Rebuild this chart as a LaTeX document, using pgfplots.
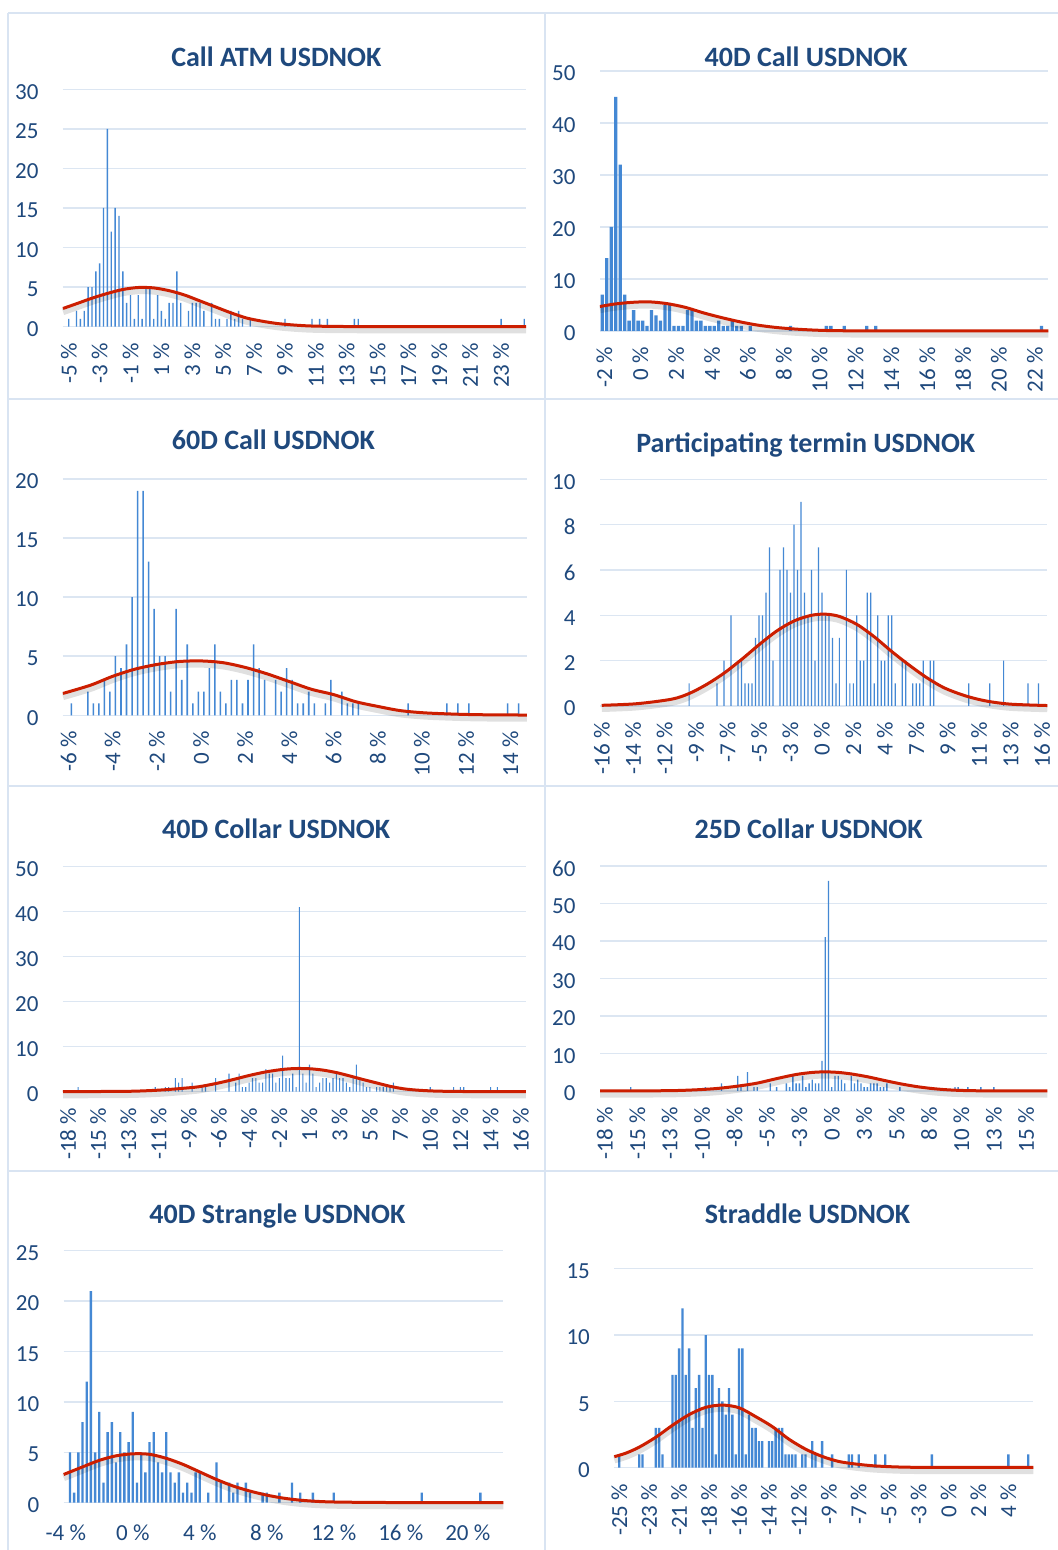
\documentclass[border=0pt]{standalone}
\usepackage{fontspec}
\setmainfont{Carlito}
\usepackage{pgfplots}
\usepackage{pgfplotstable}
\pgfplotsset{compat=1.18}

\definecolor{barblue}{RGB}{68,136,212}
\definecolor{curvered}{RGB}{204,30,0}
\definecolor{gridblue}{RGB}{220,230,242}
\definecolor{frameblue}{RGB}{217,228,242}
\definecolor{textblue}{RGB}{31,73,125}

\newcommand{\ticksize}{\fontsize{11.5}{13}\selectfont}
\newcommand{\titlesize}{\fontsize{14}{16.5}\selectfont}

\pgfplotsset{
  panel/.style={
    scale only axis, anchor=south west, clip=false,
    ymin=0, axis line style={draw=none}, major tick length=0pt,
    ymajorgrids, grid style={line width=0.75pt, gridblue},
    tick label style={font=\ticksize, text=textblue},
    yticklabel style={xshift=-8.7pt, yshift=-1.2pt,
      /pgf/number format/assume math mode=true},
  },
  % labels read upwards; after rotate=90 the node's x axis points up the page
  rotlabels/.style={xticklabel style={rotate=90, anchor=east, xshift=-4.5pt}},
  bars/.style={ybar, bar shift=0pt, fill=barblue, draw=none},
  fitcurve/.style={smooth, no markers, line width=1.5pt, curvered},
  fitshadow/.style={smooth, no markers, line width=3.5pt, black, opacity=0.12,
    transform canvas={yshift=-1.6pt}},
}

% ---------- Call ATM ----------
\pgfplotstableread{
x y
-5 1
-4.5 2
-4.25 1
-4 2
-3.75 5
-3.5 5
-3.25 7
-3 8
-2.75 15
-2.5 25
-2.25 12
-2 15
-1.75 14
-1.5 7
-1.25 3
-1 4
-0.75 1
-0.5 4
-0.25 1
0 5
0.25 5
0.5 1
0.75 4
1 2
1.25 1
1.5 3
1.75 3
2 7
2.25 3
2.75 2
3 3
3.25 3
3.5 3
3.75 2
4.25 3
4.5 1
4.75 1
5.25 1
5.5 2
5.75 1
6 2
6.25 1
6.75 1
9 1
10.75 1
11.25 1
11.75 1
13.5 1
13.75 1
23 1
24.5 1
}\atmbars
\pgfplotstableread{
x y
-5.375 2.3
-4.5 2.9
-3.5 3.6
-2.5 4.2
-1.5 4.7
-0.5 4.95
0.5 4.9
1.5 4.55
2.5 4.0
3.5 3.25
4.5 2.5
5.5 1.75
6.5 1.1
7.5 0.7
8.5 0.4
9.5 0.22
10.5 0.1
11.5 0.05
13 0.02
16 0.01
20 0.01
24.625 0.01
}\atmfit

% ---------- 40D Call ----------
\pgfplotstableread{
x y
-2.125 7
-1.875 14
-1.625 20
-1.375 45
-1.125 32
-0.875 7
-0.625 2
-0.375 4
-0.125 2
0.125 2
0.375 1
0.625 4
0.875 3
1.125 2
1.375 5
1.625 5
1.875 1
2.125 1
2.375 1
2.625 4
2.875 4
3.125 2
3.375 2
3.625 1
3.875 1
4.125 1
4.375 2
4.625 1
4.875 1
5.125 2
5.375 1
5.625 1
6.125 1
8.375 1
10.375 1
10.625 1
11.375 1
12.625 1
13.125 1
22.375 1
}\calfortybars
\pgfplotstableread{
x y
-2.25 4.7
-1.5 5.15
-0.5 5.5
0.5 5.6
1.5 5.25
2.5 4.55
3.5 3.5
4.5 2.6
5.5 1.8
6.5 1.15
7.5 0.7
8.5 0.4
9.5 0.2
10.5 0.08
12 0.03
16 0.01
22.75 0.01
}\calfortyfit

% ---------- 60D Call ----------
\pgfplotstableread{
x y
-5.875 1
-5.125 2
-4.875 1
-4.625 1
-4.375 3
-4.125 2
-3.875 5
-3.625 4
-3.375 6
-3.125 10
-2.875 19
-2.625 19
-2.375 13
-2.125 9
-1.875 5
-1.625 5
-1.375 2
-1.125 9
-0.875 3
-0.625 6
-0.375 1
-0.125 2
0.125 2
0.375 4
0.625 6
0.875 2
1.125 1
1.375 3
1.625 3
1.875 1
2.125 3
2.375 6
2.625 4
2.875 3
3.375 3
3.625 2
3.875 4
4.125 3
4.375 1
4.625 1
4.875 2
5.125 1
5.625 1
5.875 3
6.375 2
6.625 1
6.875 1
7.125 1
9.375 1
11.125 1
11.625 1
12.125 1
13.875 1
14.375 1
}\calsixtybars
\pgfplotstableread{
x y
-6.25 1.85
-5 2.55
-4 3.3
-3 3.9
-2 4.3
-1 4.55
0 4.6
1 4.45
2 4.05
3 3.5
4 2.85
5 2.2
6 1.75
7 1.15
8 0.75
9 0.4
10 0.22
11 0.13
12 0.07
13 0.04
14.75 0.02
}\calsixtyfit

% ---------- Participating termin (bin index) ----------
\pgfplotstableread{
x y
25 1
33 1
35 2
37 4
39 2
40 2
41 1
42 1
43 1
44 3
45 4
46 4
47 5
48 7
49 2
51 6
52 7
53 6
54 5
55 8
56 6
57 9
58 5
59 4
60 6
61 2
62 7
63 5
64 4
65 4
66 3
67 1
68 3
70 6
71 1
72 1
73 4
74 2
75 2
76 5
77 5
78 1
79 4
80 2
81 2
82 4
83 4
84 1
86 2
87 2
89 1
90 1
91 1
92 2
94 2
95 2
105 1
111 1
115 2
122 1
125 1
}\partbars
\pgfplotstableread{
x y
0 0.03
10 0.1
20 0.3
25 0.55
30 0.95
35 1.45
40 2.05
45 2.7
50 3.3
55 3.75
60 4.0
64 4.05
68 3.95
73 3.6
78 3.05
83 2.4
88 1.8
93 1.25
98 0.8
104 0.45
110 0.22
117 0.08
127.5 0.02
}\partfit

% ---------- 40D Collar (bin index) ----------
\pgfplotstableread{
x y
4 1
27 1
30 1
31 1
33 3
34 2
35 3
38 2
41 1
42 1
45 3
49 4
51 2
52 4
53 1
54 1
55 2
56 3
57 3
58 2
59 2
60 5
61 4
62 4
63 2
64 3
65 8
66 3
67 3
68 4
69 1
70 41
71 4
72 2
73 6
74 4
75 1
76 2
77 3
78 3
79 2
80 3
81 4
82 3
83 3
84 2
85 1
86 3
87 6
88 3
89 2
90 1
91 1
93 1
94 1
95 1
96 1
97 1
98 2
109 1
116 1
118 1
119 1
127 1
129 1
}\colfortybars
\pgfplotstableread{
x y
-0.5 0.02
10 0.04
20 0.1
27 0.3
32 0.55
36 0.8
40 1.1
45 1.8
50 2.65
55 3.6
60 4.4
65 4.95
69 5.15
73 5.1
77 4.8
81 4.25
85 3.5
89 2.7
93 1.95
97 1.2
101 0.65
105 0.35
110 0.15
116 0.06
125 0.02
137.5 0.01
}\colfortyfit

% ---------- 25D Collar (bin index) ----------
\pgfplotstableread{
x y
9 1
32 1
37 2
42 4
43 1
45 5
47 1
48 1
52 2
54 1
57 2
58 1
59 4
60 2
61 2
62 4
63 1
64 2
65 3
66 2
67 2
68 8
69 41
70 56
71 1
72 4
73 4
74 3
75 2
77 4
78 2
79 3
80 2
81 1
82 1
83 2
84 2
85 2
86 1
87 1
88 2
92 1
109 1
110 1
113 1
117 1
121 1
}\coltwentybars
\pgfplotstableread{
x y
-0.5 0.02
10 0.03
22 0.1
30 0.35
36 0.7
42 1.3
48 2.1
54 3.3
60 4.4
65 4.95
69 5.1
73 4.95
77 4.55
82 3.8
87 2.85
92 1.95
97 1.2
102 0.65
107 0.3
112 0.12
118 0.05
137.5 0.02
}\coltwentyfit

% ---------- 40D Strangle ----------
\pgfplotstableread{
x y
-3.75 5
-3.5 1
-3.25 5
-3 8
-2.75 12
-2.5 21
-2.25 5
-2 9
-1.75 2
-1.5 7
-1.25 8
-1 4
-0.75 7
-0.5 5
-0.25 6
0 9
0.25 2
0.5 5
0.75 3
1 6
1.25 7
1.5 4
1.75 3
2 7
2.25 3
2.5 2
2.75 3
3 1
3.25 2
3.5 1
3.75 3
4 3
4.5 1
5 4
5.25 2
5.75 2
6 1
6.25 2
6.75 2
7 1
7.75 1
8 1
8.75 1
9.5 2
10 1
10.75 1
12 1
17.25 1
20.75 1
}\strbars
\pgfplotstableread{
x y
-4.125 2.8
-3 3.55
-2 4.2
-1 4.65
0 4.85
1 4.8
2 4.4
3 3.8
4 3.05
5 2.3
6 1.65
7 1.15
8 0.75
9 0.45
10 0.25
11 0.13
12 0.07
14 0.03
17 0.01
22.125 0.01
}\strfit

% ---------- Straddle (bin index) ----------
\pgfplotstableread{
x y
1 1
7 1
8 1
12 3
13 3
14 1
17 7
18 7
19 9
20 12
21 7
22 9
23 3
24 6
25 7
26 3
27 10
28 7
29 7
30 1
31 6
32 5
33 4
34 6
35 4
36 1
37 9
38 9
39 1
40 4
41 3
42 3
43 2
44 2
46 2
47 2
48 3
49 3
50 3
51 1
52 1
53 1
54 1
56 1
57 1
59 2
60 1
62 2
65 1
70 1
71 1
73 1
78 1
81 1
95 1
118 1
124 1
}\stdbars
\pgfplotstableread{
x y
-0.5 0.83
3 1.1
7 1.55
12 2.3
17 3.2
22 4.0
27 4.55
32 4.72
37 4.52
42 3.85
47 3.1
52 2.15
57 1.4
62 0.85
67 0.47
72 0.28
77 0.15
82 0.08
87 0.04
95 0.02
110 0.02
125.5 0.02
}\stdfit

\begin{document}
\begin{tikzpicture}
\useasboundingbox (0,0) rectangle (529pt,775pt);
\fill[white] (0,0) rectangle (529pt,775pt);

% chart-area frames
\begin{scope}[frameblue, line width=0.9pt]
  \draw (4pt,0) -- (4pt,768.35pt);
  \draw (272.5pt,0) -- (272.5pt,768.35pt);
  \draw (4pt,768.35pt) -- (529pt,768.35pt);
  \draw (4pt,575.5pt) -- (529pt,575.5pt);
  \draw (4pt,382pt) -- (529pt,382pt);
  \draw (4pt,189.5pt) -- (529pt,189.5pt);
\end{scope}

% titles
\begin{scope}[font=\bfseries\titlesize, text=textblue, anchor=base]
  \node at (138.15pt,741.65pt) {Call ATM USDNOK};
  \node at (403.1pt,741.65pt) {40D Call USDNOK};
  \node at (136.7pt,550pt) {60D Call USDNOK};
  \node at (402.9pt,548.65pt) {Participating termin USDNOK};
  \node at (138.1pt,355.5pt) {40D Collar USDNOK};
  \node at (404.35pt,355.85pt) {25D Collar USDNOK};
  \node at (138.7pt,163pt) {40D Strangle USDNOK};
  \node at (403.75pt,163pt) {Straddle USDNOK};
\end{scope}

% Call ATM
\begin{axis}[panel, rotlabels, at={(31.5pt,611.65pt)}, width=231.6pt, height=118.7pt,
  xmin=-5.375, xmax=24.625, ymax=30, ytick={0,5,...,30},
  xtick={-5,-3,...,23},
  xticklabels={-5 \%,-3 \%,-1 \%,1 \%,3 \%,5 \%,7 \%,9 \%,11 \%,13 \%,15 \%,17 \%,19 \%,21 \%,23 \%}]
  \addplot[bars, bar width=0.09] table {\atmbars};
  \addplot[fitshadow] table {\atmfit};
  \addplot[fitcurve] table {\atmfit};
\end{axis}

% 40D Call
\begin{axis}[panel, rotlabels, at={(300pt,609.5pt)}, width=224.15pt, height=130pt,
  xmin=-2.25, xmax=22.75, ymax=50, ytick={0,10,...,50},
  xtick={-2,0,...,22},
  xticklabels={-2 \%,0 \%,2 \%,4 \%,6 \%,8 \%,10 \%,12 \%,14 \%,16 \%,18 \%,20 \%,22 \%}]
  \addplot[bars, bar width=0.185] table {\calfortybars};
  \addplot[fitshadow] table {\calfortyfit};
  \addplot[fitcurve] table {\calfortyfit};
\end{axis}

% 60D Call
\begin{axis}[panel, rotlabels, at={(31.5pt,417.35pt)}, width=231.95pt, height=118.15pt,
  xmin=-6.25, xmax=14.75, ymax=20, ytick={0,5,...,20},
  xtick={-6,-4,...,14},
  xticklabels={-6 \%,-4 \%,-2 \%,0 \%,2 \%,4 \%,6 \%,8 \%,10 \%,12 \%,14 \%}]
  \addplot[bars, bar width=0.07] table {\calsixtybars};
  \addplot[fitshadow] table {\calsixtyfit};
  \addplot[fitcurve] table {\calsixtyfit};
\end{axis}

% Participating termin
\begin{axis}[panel, rotlabels, at={(300pt,422pt)}, width=223.65pt, height=113.35pt,
  xmin=-0.5, xmax=127.5, ymax=10, ytick={0,2,...,10},
  xtick={0,9,...,126},
  xticklabels={-16 \%,-14 \%,-12 \%,-9 \%,-7 \%,-5 \%,-3 \%,0 \%,2 \%,4 \%,7 \%,9 \%,11 \%,13 \%,16 \%}]
  \addplot[bars, bar width=0.35] table {\partbars};
  \addplot[fitshadow] table {\partfit};
  \addplot[fitcurve] table {\partfit};
\end{axis}

% 40D Collar
\begin{axis}[panel, rotlabels, at={(31.5pt,229.15pt)}, width=231.4pt, height=112.5pt,
  xmin=-0.5, xmax=137.5, ymax=50, ytick={0,10,...,50},
  xtick={1,10,...,136},
  xticklabels={-18 \%,-15 \%,-13 \%,-11 \%,-9 \%,-6 \%,-4 \%,-2 \%,1 \%,3 \%,5 \%,7 \%,10 \%,12 \%,14 \%,16 \%}]
  \addplot[bars, bar width=0.32] table {\colfortybars};
  \addplot[fitshadow] table {\colfortyfit};
  \addplot[fitcurve] table {\colfortyfit};
\end{axis}

% 25D Collar
\begin{axis}[panel, rotlabels, at={(300pt,229.5pt)}, width=223.65pt, height=112.5pt,
  xmin=-0.5, xmax=137.5, ymax=60, ytick={0,10,...,60},
  xtick={1,11,...,131},
  xticklabels={-18 \%,-15 \%,-13 \%,-10 \%,-8 \%,-5 \%,-3 \%,0 \%,3 \%,5 \%,8 \%,10 \%,13 \%,15 \%}]
  \addplot[bars, bar width=0.42] table {\coltwentybars};
  \addplot[fitshadow] table {\coltwentyfit};
  \addplot[fitcurve] table {\coltwentyfit};
\end{axis}

% 40D Strangle
\begin{axis}[panel, at={(31.85pt,23.65pt)}, width=219.85pt, height=126pt,
  xmin=-4.125, xmax=22.125, ymax=25, ytick={0,5,...,25},
  xtick={-4,0,...,20},
  xticklabels={-4 \%,0 \%,4 \%,8 \%,12 \%,16 \%,20 \%},
  xticklabel style={anchor=north, yshift=-7.7pt}]
  \addplot[bars, bar width=0.14] table {\strbars};
  \addplot[fitshadow] table {\strfit};
  \addplot[fitcurve] table {\strfit};
\end{axis}

% Straddle
\begin{axis}[panel, rotlabels, at={(307.15pt,41.15pt)}, width=209.5pt, height=99.5pt,
  xmin=-0.5, xmax=125.5, ymax=15, ytick={0,5,...,15},
  xtick={1,10,...,118},
  xticklabels={-25 \%,-23 \%,-21 \%,-18 \%,-16 \%,-14 \%,-12 \%,-9 \%,-7 \%,-5 \%,-3 \%,0 \%,2 \%,4 \%}]
  \addplot[bars, bar width=0.7] table {\stdbars};
  \addplot[fitshadow] table {\stdfit};
  \addplot[fitcurve] table {\stdfit};
\end{axis}
\end{tikzpicture}
\end{document}
